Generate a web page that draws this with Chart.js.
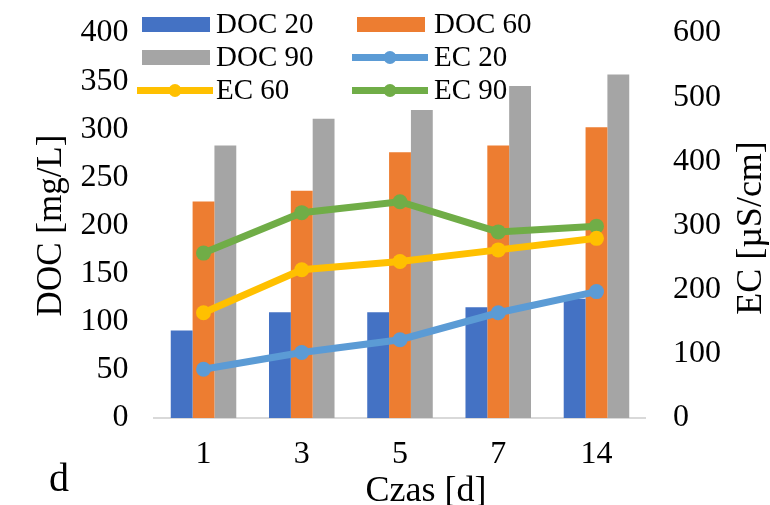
<!DOCTYPE html>
<html>
<head>
<meta charset="utf-8">
<script src="https://cdn.jsdelivr.net/npm/chart.js@4/dist/chart.umd.min.js"></script>
<style>
  html, body { margin: 0; padding: 0; background: #fff; }
  #wrap { width: 770px; height: 505px; }
</style>
</head>
<body>
<div id="wrap"><canvas id="c" width="770" height="505"></canvas></div>
<script>
// Sampling days
const categories = ['1', '3', '5', '7', '14'];

// Dissolved organic carbon [mg/L]
const doc20 = [91, 110, 110, 115, 124];
const doc60 = [225, 236, 276, 283, 302];
const doc90 = [283, 311, 320, 345, 357];

// Electrical conductivity [µS/cm]
const ec20 = [76, 102, 122, 164, 197];
const ec60 = [164, 231, 244, 262, 280];
const ec90 = [257, 320, 337, 290, 299];

const SERIF = '"Liberation Serif", "Times New Roman", serif';

const barDs = (label, data, color) => ({
  type: 'bar', label, data, backgroundColor: color, borderWidth: 0,
  yAxisID: 'y', order: 1, categoryPercentage: 0.667, barPercentage: 1.0
});
const lineDs = (label, data, color) => ({
  type: 'line', label, data, borderColor: color, backgroundColor: color,
  borderWidth: 7, pointRadius: 7.5, pointBorderWidth: 0, pointBackgroundColor: color,
  tension: 0, yAxisID: 'y1', order: 0
});

// Fixed box sizes for the value axes; the plot edges come from layout padding
const fixVertical = (width) => (s) => {
  s.width = width;
  s.paddingTop = 0;
  s.paddingBottom = 0;
};

// Legend drawn over the plot in two columns (row-major order)
const legendPlugin = {
  id: 'overlayLegend',
  afterDraw(chart) {
    const ctx = chart.ctx;
    const cols = [{ sx: 142, tx: 216 }, { sx: 357, tx: 434 }];
    const rows = [24.5, 57.5, 90.5];
    ctx.save();
    ctx.font = '29px ' + SERIF;
    ctx.textBaseline = 'middle';
    ctx.textAlign = 'left';
    chart.data.datasets.forEach((ds, i) => {
      const col = cols[i % 2];
      const y = rows[Math.floor(i / 2)];
      if (ds.type === 'bar') {
        ctx.fillStyle = ds.backgroundColor;
        ctx.fillRect(col.sx, y - 7.5, 68, 15);
      } else {
        ctx.strokeStyle = ds.borderColor;
        ctx.lineWidth = 7;
        ctx.beginPath();
        ctx.moveTo(col.sx - 5, y);
        ctx.lineTo(col.sx + 71, y);
        ctx.stroke();
        ctx.fillStyle = ds.borderColor;
        ctx.beginPath();
        ctx.arc(col.sx + 33, y, 6.5, 0, Math.PI * 2);
        ctx.fill();
      }
      ctx.fillStyle = '#000';
      ctx.fillText(ds.label, col.tx, y + 1);
    });
    ctx.restore();
  }
};

// Right-axis title, x-axis title and panel letter
const titlesPlugin = {
  id: 'extraTitles',
  afterDraw(chart) {
    const ctx = chart.ctx;
    ctx.save();
    ctx.fillStyle = '#000';
    ctx.font = '36px ' + SERIF;
    ctx.textAlign = 'center';
    ctx.textBaseline = 'alphabetic';
    ctx.fillText('Czas [d]', 426, 501);

    ctx.save();
    ctx.translate(752, 228);
    ctx.rotate(-Math.PI / 2);
    ctx.textBaseline = 'middle';
    ctx.fillText('EC [µS/cm]', 0, 0);
    ctx.restore();

    ctx.font = '40px ' + SERIF;
    ctx.fillText('d', 59, 491);
    ctx.restore();
  }
};

new Chart(document.getElementById('c'), {
  data: {
    labels: categories,
    datasets: [
      barDs('DOC 20', doc20, '#4472C4'),
      barDs('DOC 60', doc60, '#ED7D31'),
      barDs('DOC 90', doc90, '#A5A5A5'),
      lineDs('EC 20', ec20, '#5B9BD5'),
      lineDs('EC 60', ec60, '#FFC000'),
      lineDs('EC 90', ec90, '#70AD47')
    ]
  },
  options: {
    responsive: false,
    animation: false,
    devicePixelRatio: 1,
    layout: { padding: { top: 33, left: 0, right: 0, bottom: 0 } },
    plugins: { legend: { display: false }, tooltip: { enabled: false }, title: { display: false } },
    scales: {
      x: {
        type: 'category',
        offset: true,
        grid: { display: false, drawTicks: false },
        border: { display: true, color: '#d9d9d9', width: 2 },
        ticks: { color: '#000', font: { family: SERIF, size: 32, lineHeight: 1 }, padding: 21, maxRotation: 0 },
        afterFit(s) { s.height = 87; }
      },
      y: {
        position: 'left',
        min: 0, max: 400,
        grid: { display: false, drawTicks: false },
        border: { display: false },
        ticks: { stepSize: 50, color: '#000', font: { family: SERIF, size: 32, lineHeight: 1 }, padding: 26 },
        title: {
          display: true, text: 'DOC [mg/L]', color: '#000',
          font: { family: SERIF, size: 35, lineHeight: 1 }, padding: { top: 34, bottom: 0 }
        },
        afterFit: fixVertical(154.4)
      },
      y1: {
        position: 'right',
        min: 0, max: 600,
        grid: { display: false, drawTicks: false },
        border: { display: false },
        ticks: { stepSize: 100, color: '#000', font: { family: SERIF, size: 32, lineHeight: 1 }, padding: 27.4 },
        afterFit: fixVertical(124.4)
      }
    }
  },
  plugins: [legendPlugin, titlesPlugin]
});
</script>
</body>
</html>
